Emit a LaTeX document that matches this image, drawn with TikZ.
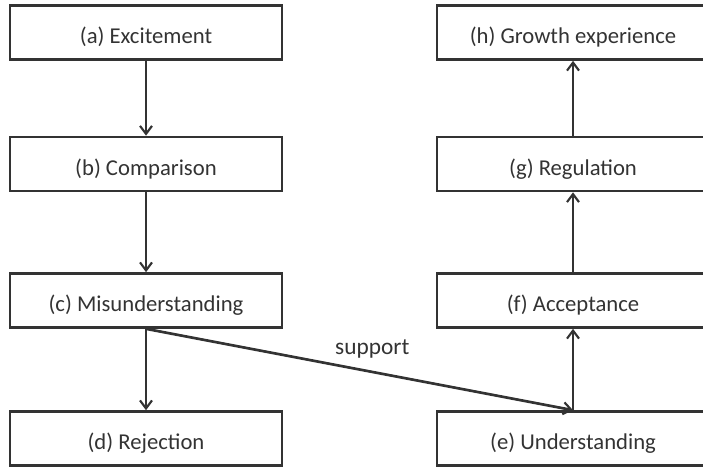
\documentclass[tikz,border=0pt]{standalone}
\usepackage{fontspec}
\setmainfont{Carlito}
\usetikzlibrary{arrows.meta}
\definecolor{ink}{HTML}{333333}
\begin{document}
\begin{tikzpicture}[
    x=0.75pt, y=-0.75pt,
    stage/.style={rectangle, draw=ink, line width=2pt, minimum width=204pt, minimum height=40.5pt, inner sep=0pt, text height=17.5pt, text depth=1pt, text=ink, font=\fontsize{17}{20}\selectfont},
    flow/.style={draw=ink, line width=2pt, -{Straight Barb[length=6pt, width=9pt, line width=1.6pt]}}
]
    \clip (0,0) rectangle (703,467);

    % Stages
    \node[stage] (exc) at (146,32.5) {(a) Excitement};
    \node[stage] (cmp) at (146,164) {(b) Comparison};
    \node[stage] (mis) at (146,300.5) {(c) Misunderstanding};
    \node[stage] (rej) at (146,438.5) {(d) Rejection};

    \node[stage] (und) at (573,438.5) {(e) Understanding};
    \node[stage] (acc) at (573,300.5) {(f) Acceptance};
    \node[stage] (reg) at (573,164) {(g) Regulation};
    \node[stage] (grw) at (573,32.5) {(h) Growth experience};

    % Transitions
    \draw[flow] (exc) -- (cmp);
    \draw[flow] (cmp) -- (mis);
    \draw[flow] (mis) -- (rej);
    \draw[flow] (mis.south) -- node[pos=0.53, above=6pt, text=ink, font=\fontsize{17.5}{20}\selectfont] (sup) {support} (und.north);
    \draw[flow] (und) -- (acc);
    \draw[flow] (acc) -- (reg);
    \draw[flow] (reg) -- (grw);

\end{tikzpicture}
\end{document}
